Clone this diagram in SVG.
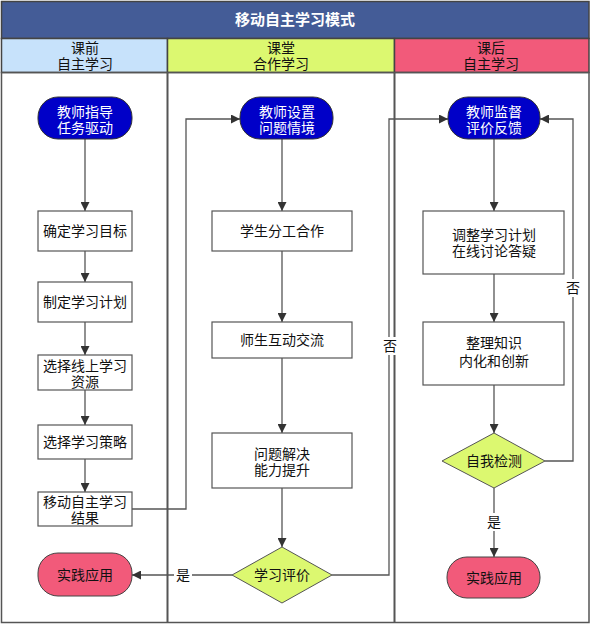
<svg xmlns="http://www.w3.org/2000/svg" width="591" height="625" viewBox="0 0 591 625">
<defs>
<marker id="ah" viewBox="0 0 10 10" refX="10" refY="5" markerWidth="9" markerHeight="9" markerUnits="userSpaceOnUse" orient="auto">
<path d="M0,0 L10,5 L0,10 z" fill="#333"/>
</marker>
<style>
text{font-family:"Liberation Sans","Noto Sans CJK SC",sans-serif;font-size:14px;text-anchor:middle;fill:#111}
.w{fill:#fff}
.title{font-size:15px;font-weight:bold;fill:#fff}
.box{fill:#fff;stroke:#555;stroke-width:1.2}
.term{fill:#0000c8;stroke:#333;stroke-width:1}
.red{fill:#f25a7a;stroke:#444;stroke-width:1}
.dia{fill:#dcf870;stroke:#555;stroke-width:1}
.ln{fill:none;stroke:#555;stroke-width:1.3}
.lbl{fill:#fff}
</style>
</defs>
<rect x="0" y="0" width="591" height="625" fill="#fff"/>
<g id="frame">
<rect x="1.5" y="1.5" width="587.5" height="37" fill="#445c97" stroke="#444" stroke-width="1.5"/>
<text class="title" x="295" y="25">移动自主学习模式</text>
<rect x="1.5" y="38.5" width="166" height="34" fill="#c7e2fb" stroke="#444" stroke-width="1.5"/>
<rect x="167.5" y="38.5" width="227" height="34" fill="#dcf870" stroke="#444" stroke-width="1.5"/>
<rect x="394.5" y="38.5" width="194.5" height="34" fill="#f25a7a" stroke="#444" stroke-width="1.5"/>
<text x="85" y="53">课前<tspan x="85" dy="16">自主学习</tspan></text>
<text x="281" y="53">课堂<tspan x="281" dy="16">合作学习</tspan></text>
<text x="491" y="53">课后<tspan x="491" dy="16">自主学习</tspan></text>
<rect x="1.5" y="72.5" width="587.5" height="550" fill="none" stroke="#555" stroke-width="1.5"/>
<line x1="167.5" y1="72" x2="167.5" y2="622" stroke="#555" stroke-width="2"/>
<line x1="394.5" y1="72" x2="394.5" y2="622" stroke="#555" stroke-width="2"/>
</g>
<g id="connectors">
<line class="ln" x1="85" y1="139" x2="85" y2="211" marker-end="url(#ah)"/>
<line class="ln" x1="85" y1="251" x2="85" y2="282" marker-end="url(#ah)"/>
<line class="ln" x1="85" y1="322" x2="85" y2="355" marker-end="url(#ah)"/>
<line class="ln" x1="85" y1="390" x2="85" y2="425" marker-end="url(#ah)"/>
<line class="ln" x1="85" y1="459" x2="85" y2="492" marker-end="url(#ah)"/>
<polyline class="ln" points="132,509 186,509 186,119 240,119" marker-end="url(#ah)"/>
<line class="ln" x1="282" y1="139" x2="282" y2="211" marker-end="url(#ah)"/>
<line class="ln" x1="282" y1="251" x2="282" y2="322" marker-end="url(#ah)"/>
<line class="ln" x1="282" y1="358" x2="282" y2="433" marker-end="url(#ah)"/>
<line class="ln" x1="282" y1="488" x2="282" y2="547" marker-end="url(#ah)"/>
<line class="ln" x1="232" y1="575" x2="132" y2="575" marker-end="url(#ah)"/>
<rect class="lbl" x="174" y="566" width="18" height="18"/>
<text x="183" y="580">是</text>
<polyline class="ln" points="332,575 389,575 389,119 448,119" marker-end="url(#ah)"/>
<rect class="lbl" x="382" y="337" width="16" height="18"/>
<text x="390" y="351">否</text>
<line class="ln" x1="494" y1="139" x2="494" y2="211" marker-end="url(#ah)"/>
<line class="ln" x1="494" y1="274" x2="494" y2="322" marker-end="url(#ah)"/>
<line class="ln" x1="494" y1="385" x2="494" y2="433" marker-end="url(#ah)"/>
<polyline class="ln" points="545,461 573,461 573,119 540,119" marker-end="url(#ah)"/>
<rect class="lbl" x="565" y="279" width="16" height="18"/>
<text x="573" y="293">否</text>
<line class="ln" x1="494" y1="488" x2="494" y2="557" marker-end="url(#ah)"/>
<rect class="lbl" x="485" y="513" width="18" height="18"/>
<text x="494" y="527">是</text>
</g>
<g id="n1"><rect class="term" x="38" y="97" width="94" height="42" rx="20"/><text class="w" x="85" y="117">教师指导<tspan x="85" dy="16">任务驱动</tspan></text></g>
<g id="n2"><rect class="box" x="38" y="211" width="94" height="40"/><text x="85" y="236">确定学习目标</text></g>
<g id="n3"><rect class="box" x="38" y="282" width="94" height="40"/><text x="85" y="307">制定学习计划</text></g>
<g id="n4"><rect class="box" x="38" y="355" width="94" height="35"/><text x="85" y="371">选择线上学习<tspan x="85" dy="16">资源</tspan></text></g>
<g id="n5"><rect class="box" x="38" y="425" width="94" height="34"/><text x="85" y="447">选择学习策略</text></g>
<g id="n6"><rect class="box" x="38" y="492" width="94" height="34"/><text x="85" y="507">移动自主学习<tspan x="85" dy="16">结果</tspan></text></g>
<g id="n7"><rect class="red" x="38" y="553" width="94" height="43" rx="20"/><text x="85" y="580">实践应用</text></g>
<g id="m1"><rect class="term" x="240" y="97" width="93" height="42" rx="20"/><text class="w" x="287" y="117">教师设置<tspan x="287" dy="16">问题情境</tspan></text></g>
<g id="m2"><rect class="box" x="212" y="211" width="140" height="40"/><text x="282" y="236">学生分工合作</text></g>
<g id="m3"><rect class="box" x="212" y="322" width="140" height="36"/><text x="282" y="345">师生互动交流</text></g>
<g id="m4"><rect class="box" x="212" y="433" width="140" height="55"/><text x="282" y="459">问题解决<tspan x="282" dy="16">能力提升</tspan></text></g>
<g id="m5"><polygon class="dia" points="282,547 332,575 282,603 232,575"/><text x="282" y="580">学习评价</text></g>
<g id="r1"><rect class="term" x="448" y="97" width="92" height="42" rx="20"/><text class="w" x="494" y="117">教师监督<tspan x="494" dy="16">评价反馈</tspan></text></g>
<g id="r2"><rect class="box" x="423" y="211" width="141" height="63"/><text x="494" y="240">调整学习计划<tspan x="494" dy="16">在线讨论答疑</tspan></text></g>
<g id="r3"><rect class="box" x="423" y="322" width="141" height="63"/><text x="494" y="348">整理知识<tspan x="494" dy="18">内化和创新</tspan></text></g>
<g id="r4"><polygon class="dia" points="494,433 545,461 494,488 442,461"/><text x="494" y="466">自我检测</text></g>
<g id="r5"><rect class="red" x="447" y="557" width="93" height="41" rx="20"/><text x="494" y="583">实践应用</text></g>
</svg>
